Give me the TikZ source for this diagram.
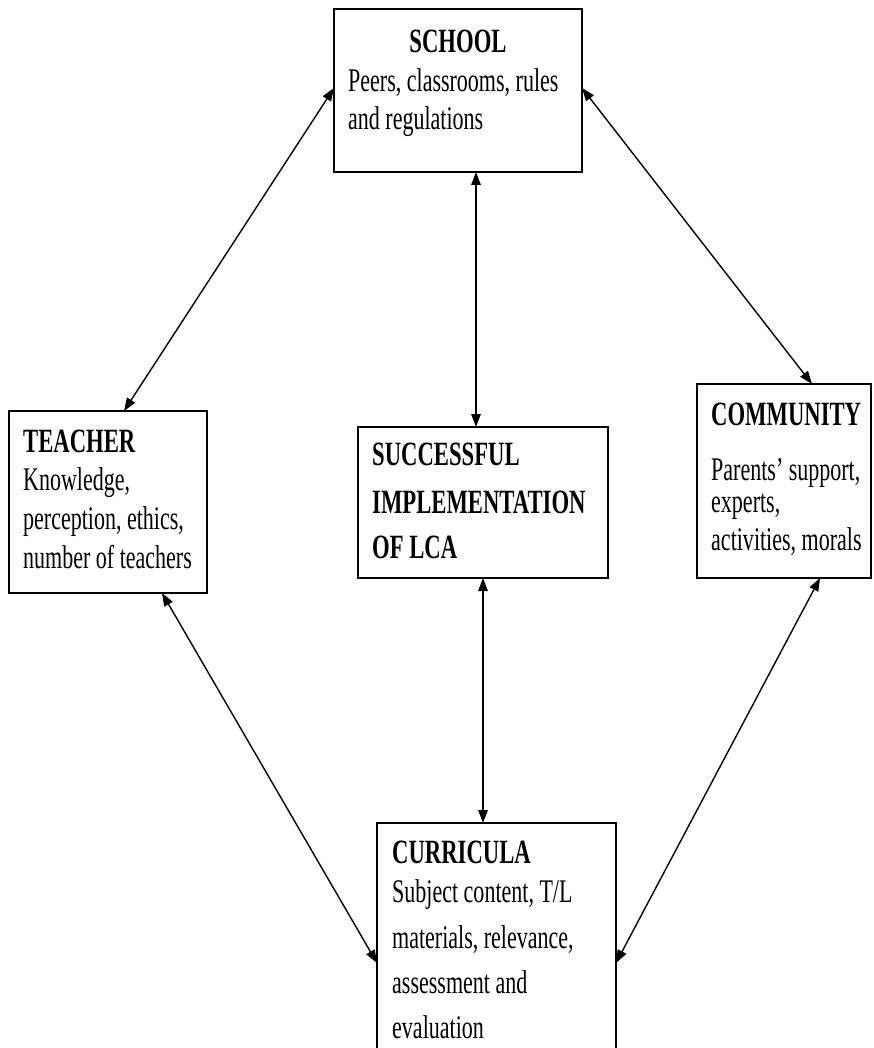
\documentclass[tikz,border=0pt]{standalone}
\usepackage{fontspec}
\setmainfont[FakeStretch=0.667]{Liberation Serif}
\usetikzlibrary{arrows.meta}
\begin{document}
\begin{tikzpicture}[x=1pt,y=-1pt,
  box/.style={draw, line width=1.8pt, rectangle, inner sep=0pt, outer sep=0pt},
  txt/.style={anchor=base west, inner sep=0pt, font=\fontsize{33}{39}\selectfont},
  hd/.style={anchor=base west, inner sep=0pt, font=\fontsize{34}{39}\selectfont\bfseries},
  link/.style={line width=1.4pt, {Triangle[length=13pt,width=9.5pt]}-{Triangle[length=13pt,width=9.5pt]}}]
\useasboundingbox (0,0) rectangle (873,1048);
\fill[white] (0,0) rectangle (873,1048);
\clip (0,0) rectangle (873,1048);

% boxes
\node[box, minimum width=248pt, minimum height=163pt] (school) at (458,90.5) {};
\node[box, minimum width=198pt, minimum height=182pt] (teacher) at (108,502) {};
\node[box, minimum width=250pt, minimum height=151pt] (succ) at (483,502.5) {};
\node[box, minimum width=174pt, minimum height=194pt] (community) at (784,481) {};
\node[box, minimum width=239pt, minimum height=247pt] (curr) at (496.5,946.5) {};

% school text
\node[hd, anchor=base] (schoolh) at (458,53) {SCHOOL};
\node[txt] (school1) at (348,92) {Peers, classrooms, rules};
\node[txt] (school2) at (348,130) {and regulations};

% teacher text
\node[hd] (teacherh) at (23,452) {TEACHER};
\node[txt] (teacher1) at (23,490) {Knowledge,};
\node[txt] (teacher2) at (23,529) {perception, ethics,};
\node[txt] (teacher3) at (23,568) {number of teachers};

% successful implementation text
\node[hd] (succ1) at (372,465) {SUCCESSFUL};
\node[hd] (succ2) at (372,513) {IMPLEMENTATION};
\node[hd] (succ3) at (372,558) {OF LCA};

% community text
\node[hd] (communityh) at (711,425) {COMMUNITY};
\node[txt] (community1) at (711,480) {Parents’ support,};
\node[txt] (community2) at (711,512) {experts,};
\node[txt] (community3) at (711,550) {activities, morals};

% curricula text
\node[hd] (currh) at (392,863) {CURRICULA};
\node[txt] (curr1) at (392,902) {Subject content, T/L};
\node[txt] (curr2) at (392,948) {materials, relevance,};
\node[txt] (curr3) at (392,993) {assessment and};
\node[txt] (curr4) at (392,1038) {evaluation};

% connectors
\draw[link] ([yshift=-79pt]school.north west) -- ([xshift=115pt]teacher.north west);
\draw[link] ([yshift=-79pt]school.north east) -- ([xshift=115pt]community.north west);
\draw[link] ([xshift=18pt]school.south) -- ([xshift=18pt]school.south |- succ.north);
\draw[link] (succ.south) -- (succ.south |- curr.north);
\draw[link] ([xshift=153pt]teacher.south west) -- ([yshift=-140pt]curr.north west);
\draw[link] ([xshift=123pt]community.south west) -- ([yshift=-140pt]curr.north east);
\end{tikzpicture}
\end{document}
